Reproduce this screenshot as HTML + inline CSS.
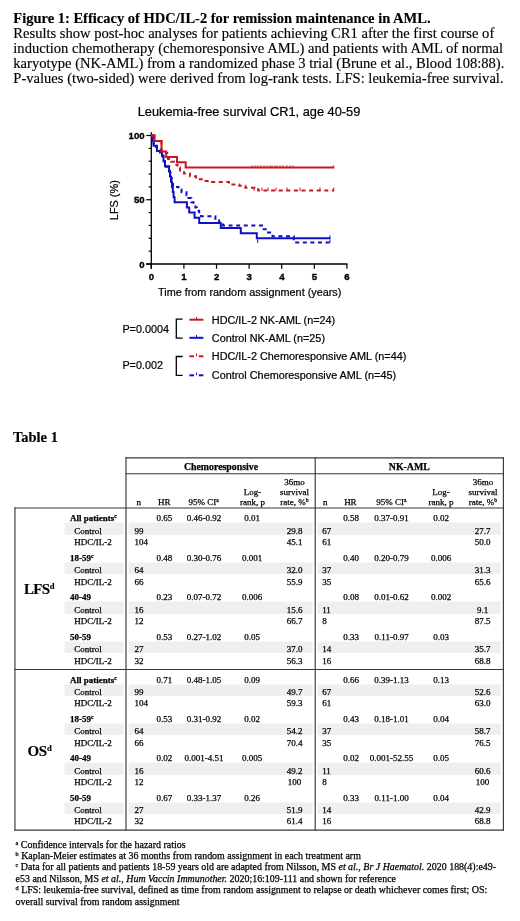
<!DOCTYPE html>
<html><head><meta charset="utf-8"><title>Figure 1 and Table 1</title><style>
*{margin:0;padding:0;box-sizing:border-box}
html,body{width:520px;height:921px;background:#fff;overflow:hidden}
body{position:relative;font-family:"Liberation Serif",serif;color:#000}
#pg{position:absolute;left:0;top:0;width:520px;height:921px;will-change:transform}
.t{position:absolute;white-space:nowrap}
.s{-webkit-text-stroke:0.25px #000}
.m{-webkit-text-stroke:0.15px #000}
.chart{position:absolute;left:0;top:0}
sup{font-size:0.62em;line-height:0;vertical-align:0.5em}
sup.big{font-size:8.6px;vertical-align:4.7px;margin-left:0.6px}
</style></head>
<body><div id="pg">
<svg class="chart" width="520" height="921" viewBox="0 0 520 921"><rect x="64.5" y="522.50" width="59.00" height="12.40" fill="#efefef"/><rect x="128.6" y="522.50" width="184.10" height="12.40" fill="#efefef"/><rect x="317.5" y="522.50" width="183.30" height="12.40" fill="#efefef"/><rect x="64.5" y="562.50" width="59.00" height="11.40" fill="#efefef"/><rect x="128.6" y="562.50" width="184.10" height="11.40" fill="#efefef"/><rect x="317.5" y="562.50" width="183.30" height="11.40" fill="#efefef"/><rect x="64.5" y="601.50" width="59.00" height="12.40" fill="#efefef"/><rect x="128.6" y="601.50" width="184.10" height="12.40" fill="#efefef"/><rect x="317.5" y="601.50" width="183.30" height="12.40" fill="#efefef"/><rect x="64.5" y="641.50" width="59.00" height="11.40" fill="#efefef"/><rect x="128.6" y="641.50" width="184.10" height="11.40" fill="#efefef"/><rect x="317.5" y="641.50" width="183.30" height="11.40" fill="#efefef"/><rect x="64.5" y="684.50" width="59.00" height="11.40" fill="#efefef"/><rect x="128.6" y="684.50" width="184.10" height="11.40" fill="#efefef"/><rect x="317.5" y="684.50" width="183.30" height="11.40" fill="#efefef"/><rect x="64.5" y="723.50" width="59.00" height="11.40" fill="#efefef"/><rect x="128.6" y="723.50" width="184.10" height="11.40" fill="#efefef"/><rect x="317.5" y="723.50" width="183.30" height="11.40" fill="#efefef"/><rect x="64.5" y="762.50" width="59.00" height="12.40" fill="#efefef"/><rect x="128.6" y="762.50" width="184.10" height="12.40" fill="#efefef"/><rect x="317.5" y="762.50" width="183.30" height="12.40" fill="#efefef"/><rect x="64.5" y="802.50" width="59.00" height="11.40" fill="#efefef"/><rect x="128.6" y="802.50" width="184.10" height="11.40" fill="#efefef"/><rect x="317.5" y="802.50" width="183.30" height="11.40" fill="#efefef"/><line x1="125.425" y1="457.85" x2="503.97499999999997" y2="457.85" stroke="#383838" stroke-width="1.15"/><line x1="125.425" y1="473.75" x2="503.97499999999997" y2="473.75" stroke="#383838" stroke-width="1.15"/><line x1="14.375" y1="508.0" x2="503.97499999999997" y2="508.0" stroke="#383838" stroke-width="1.15"/><line x1="14.375" y1="669.5" x2="503.97499999999997" y2="669.5" stroke="#383838" stroke-width="1.15"/><line x1="14.375" y1="830.1" x2="503.97499999999997" y2="830.1" stroke="#383838" stroke-width="1.15"/><line x1="14.95" y1="507.425" x2="14.95" y2="830.6750000000001" stroke="#383838" stroke-width="1.15"/><line x1="126.0" y1="457.27500000000003" x2="126.0" y2="830.6750000000001" stroke="#383838" stroke-width="1.15"/><line x1="315.2" y1="457.27500000000003" x2="315.2" y2="830.6750000000001" stroke="#383838" stroke-width="1.15"/><line x1="503.4" y1="457.27500000000003" x2="503.4" y2="830.6750000000001" stroke="#383838" stroke-width="1.15"/></svg>
<div class="t m" style="top:10px;font-size:14.5px;line-height:16px;font-weight:bold;left:13.30px;">Figure 1: Efficacy of HDC/IL-2 for remission maintenance in AML.</div>
<div class="t m" style="top:25px;font-size:14.58px;line-height:16px;left:13.30px;">Results show post-hoc analyses for patients achieving CR1 after the first course of</div>
<div class="t m" style="top:40px;font-size:14.58px;line-height:16px;left:13.30px;">induction chemotherapy (chemoresponsive AML) and patients with AML of normal</div>
<div class="t m" style="top:55px;font-size:14.58px;line-height:16px;left:13.30px;">karyotype (NK-AML) from a randomized phase 3 trial (Brune et al., Blood 108:88).</div>
<div class="t m" style="top:70px;font-size:14.58px;line-height:16px;left:13.30px;">P-values (two-sided) were derived from log-rank tests. LFS: leukemia-free survival.</div>
<svg class="chart" width="520" height="400" viewBox="0 0 520 400"><text x="249" y="115.7" font-size="12.8" text-anchor="middle" stroke="#000" stroke-width="0.22" font-family='"Liberation Sans", sans-serif'>Leukemia-free survival CR1, age 40-59</text><line x1="151.3" y1="132.3" x2="151.3" y2="268.8" stroke="#000" stroke-width="1.3"/><line x1="146.2" y1="264.0" x2="347.50000000000006" y2="264.0" stroke="#000" stroke-width="1.3"/><line x1="146.2" y1="264.00" x2="151.3" y2="264.00" stroke="#000" stroke-width="1.2"/><line x1="148.6" y1="251.15" x2="151.3" y2="251.15" stroke="#000" stroke-width="1.2"/><line x1="148.6" y1="238.30" x2="151.3" y2="238.30" stroke="#000" stroke-width="1.2"/><line x1="148.6" y1="225.45" x2="151.3" y2="225.45" stroke="#000" stroke-width="1.2"/><line x1="148.6" y1="212.60" x2="151.3" y2="212.60" stroke="#000" stroke-width="1.2"/><line x1="146.2" y1="199.75" x2="151.3" y2="199.75" stroke="#000" stroke-width="1.2"/><line x1="148.6" y1="186.90" x2="151.3" y2="186.90" stroke="#000" stroke-width="1.2"/><line x1="148.6" y1="174.05" x2="151.3" y2="174.05" stroke="#000" stroke-width="1.2"/><line x1="148.6" y1="161.20" x2="151.3" y2="161.20" stroke="#000" stroke-width="1.2"/><line x1="148.6" y1="148.35" x2="151.3" y2="148.35" stroke="#000" stroke-width="1.2"/><line x1="146.2" y1="135.50" x2="151.3" y2="135.50" stroke="#000" stroke-width="1.2"/><line x1="151.30" y1="264.0" x2="151.30" y2="268.8" stroke="#000" stroke-width="1.2"/><text x="151.40" y="280.3" font-size="9.6" font-weight="bold" text-anchor="middle" stroke="#000" stroke-width="0.35" font-family='"Liberation Sans", sans-serif'>0</text><line x1="183.90" y1="264.0" x2="183.90" y2="268.8" stroke="#000" stroke-width="1.2"/><text x="184.00" y="280.3" font-size="9.6" font-weight="bold" text-anchor="middle" stroke="#000" stroke-width="0.35" font-family='"Liberation Sans", sans-serif'>1</text><line x1="216.50" y1="264.0" x2="216.50" y2="268.8" stroke="#000" stroke-width="1.2"/><text x="216.60" y="280.3" font-size="9.6" font-weight="bold" text-anchor="middle" stroke="#000" stroke-width="0.35" font-family='"Liberation Sans", sans-serif'>2</text><line x1="249.10" y1="264.0" x2="249.10" y2="268.8" stroke="#000" stroke-width="1.2"/><text x="249.20" y="280.3" font-size="9.6" font-weight="bold" text-anchor="middle" stroke="#000" stroke-width="0.35" font-family='"Liberation Sans", sans-serif'>3</text><line x1="281.70" y1="264.0" x2="281.70" y2="268.8" stroke="#000" stroke-width="1.2"/><text x="281.80" y="280.3" font-size="9.6" font-weight="bold" text-anchor="middle" stroke="#000" stroke-width="0.35" font-family='"Liberation Sans", sans-serif'>4</text><line x1="314.30" y1="264.0" x2="314.30" y2="268.8" stroke="#000" stroke-width="1.2"/><text x="314.40" y="280.3" font-size="9.6" font-weight="bold" text-anchor="middle" stroke="#000" stroke-width="0.35" font-family='"Liberation Sans", sans-serif'>5</text><line x1="346.90" y1="264.0" x2="346.90" y2="268.8" stroke="#000" stroke-width="1.2"/><text x="347.00" y="280.3" font-size="9.6" font-weight="bold" text-anchor="middle" stroke="#000" stroke-width="0.35" font-family='"Liberation Sans", sans-serif'>6</text><text x="144.6" y="267.60" font-size="9.6" font-weight="bold" text-anchor="end" stroke="#000" stroke-width="0.35" font-family='"Liberation Sans", sans-serif'>0</text><text x="144.6" y="203.35" font-size="9.6" font-weight="bold" text-anchor="end" stroke="#000" stroke-width="0.35" font-family='"Liberation Sans", sans-serif'>50</text><text x="144.6" y="139.10" font-size="9.6" font-weight="bold" text-anchor="end" stroke="#000" stroke-width="0.35" font-family='"Liberation Sans", sans-serif'>100</text><text x="249.7" y="295.6" font-size="10.85" text-anchor="middle" stroke="#000" stroke-width="0.22" font-family='"Liberation Sans", sans-serif'>Time from random assignment (years)</text><text transform="translate(118.2,200.2) rotate(-90)" font-size="10.9" text-anchor="middle" stroke="#000" stroke-width="0.22" font-family='"Liberation Sans", sans-serif'>LFS (%)</text><path d="M151.30,135.50 L152.80,135.50 L152.80,138.33 L153.20,138.33 L153.20,141.15 L153.60,141.15 L153.60,144.11 L154.00,144.11 L154.00,146.94 L157.00,146.94 L157.00,149.76 L160.00,149.76 L160.00,152.59 L162.30,152.59 L162.30,155.55 L163.20,155.55 L163.20,158.37 L164.00,158.37 L164.00,161.20 L165.00,161.20 L165.00,164.03 L166.00,164.03 L166.00,166.85 L169.30,166.85 L169.30,169.81 L170.00,169.81 L170.00,172.64 L170.60,172.64 L170.60,175.46 L171.20,175.46 L171.20,178.29 L171.80,178.29 L171.80,181.25 L172.40,181.25 L172.40,184.07 L173.00,184.07 L173.00,186.90 L178.50,186.90 L178.50,189.47 L181.50,189.47 L181.50,192.30 L186.50,192.30 L186.50,195.38 L188.50,195.38 L188.50,197.95 L191.30,197.95 L191.30,202.32 L193.50,202.32 L193.50,204.63 L195.40,204.63 L195.40,207.46 L196.90,207.46 L196.90,210.80 L199.20,210.80 L199.20,214.66 L201.00,214.66 L201.00,216.20 L215.40,216.20 L215.40,220.31 L219.00,220.31 L219.00,222.37 L223.00,222.37 L223.00,225.45 L262.00,225.45 L262.00,229.31 L268.00,229.31 L268.00,232.52 L272.50,232.52 L272.50,236.37 L293.80,236.37 L293.80,242.41 L330.40,242.41" fill="none" stroke="#1010c4" stroke-width="2" stroke-dasharray="4,3.6"/><path d="M151.30,135.50 L152.80,135.50 L152.80,140.64 L153.60,140.64 L153.60,145.78 L157.00,145.78 L157.00,150.92 L162.00,150.92 L162.00,156.06 L163.50,156.06 L163.50,161.20 L165.00,161.20 L165.00,166.34 L169.00,166.34 L169.00,171.48 L170.00,171.48 L170.00,176.62 L171.00,176.62 L171.00,181.76 L172.00,181.76 L172.00,186.90 L172.80,186.90 L172.80,192.04 L173.60,192.04 L173.60,197.18 L174.60,197.18 L174.60,202.32 L186.90,202.32 L186.90,207.46 L189.20,207.46 L189.20,212.60 L194.60,212.60 L194.60,217.74 L199.20,217.74 L199.20,222.88 L220.80,222.88 L220.80,228.02 L240.80,228.02 L240.80,233.16 L256.80,233.16 L256.80,238.30 L330.40,238.30" fill="none" stroke="#1010c4" stroke-width="2"/><path d="M151.30,135.50 L154.60,135.50 L154.60,140.90 L161.50,140.90 L161.50,150.66 L166.00,150.66 L166.00,152.98 L167.20,152.98 L167.20,155.93 L168.00,155.93 L168.00,158.89 L171.00,158.89 L171.00,161.84 L174.00,161.84 L174.00,164.67 L177.50,164.67 L177.50,167.62 L180.00,167.62 L180.00,170.58 L184.00,170.58 L184.00,173.41 L190.00,173.41 L190.00,176.36 L196.00,176.36 L196.00,179.19 L203.00,179.19 L203.00,180.99 L212.00,180.99 L212.00,182.02 L229.00,182.02 L229.00,184.59 L239.30,184.59 L239.30,185.87 L245.40,185.87 L245.40,187.80 L254.50,187.80 L254.50,189.34 L258.30,189.34 L258.30,190.50 L334.20,190.50" fill="none" stroke="#cc161e" stroke-width="2" stroke-dasharray="4,3.6"/><path d="M151.30,135.50 L154.60,135.50 L154.60,140.90 L161.50,140.90 L161.50,151.56 L166.20,151.56 L166.20,156.96 L177.00,156.96 L177.00,162.23 L185.70,162.23 L185.70,167.62 L334.20,167.62" fill="none" stroke="#cc161e" stroke-width="2"/><line x1="252.00" y1="168.12" x2="252.00" y2="165.43" stroke="#cc161e" stroke-width="1"/><line x1="255.00" y1="168.12" x2="255.00" y2="165.43" stroke="#cc161e" stroke-width="1"/><line x1="258.00" y1="168.12" x2="258.00" y2="165.43" stroke="#cc161e" stroke-width="1"/><line x1="261.00" y1="168.12" x2="261.00" y2="165.43" stroke="#cc161e" stroke-width="1"/><line x1="264.00" y1="168.12" x2="264.00" y2="165.43" stroke="#cc161e" stroke-width="1"/><line x1="267.00" y1="168.12" x2="267.00" y2="165.43" stroke="#cc161e" stroke-width="1"/><line x1="270.00" y1="168.12" x2="270.00" y2="165.43" stroke="#cc161e" stroke-width="1"/><line x1="272.00" y1="168.12" x2="272.00" y2="165.43" stroke="#cc161e" stroke-width="1"/><line x1="275.00" y1="168.12" x2="275.00" y2="165.43" stroke="#cc161e" stroke-width="1"/><line x1="277.00" y1="168.12" x2="277.00" y2="165.43" stroke="#cc161e" stroke-width="1"/><line x1="280.00" y1="168.12" x2="280.00" y2="165.43" stroke="#cc161e" stroke-width="1"/><line x1="283.00" y1="168.12" x2="283.00" y2="165.43" stroke="#cc161e" stroke-width="1"/><line x1="287.00" y1="168.12" x2="287.00" y2="165.43" stroke="#cc161e" stroke-width="1"/><line x1="290.00" y1="168.12" x2="290.00" y2="165.43" stroke="#cc161e" stroke-width="1"/><line x1="293.00" y1="168.12" x2="293.00" y2="165.43" stroke="#cc161e" stroke-width="1"/><line x1="333.70" y1="168.12" x2="333.70" y2="165.43" stroke="#cc161e" stroke-width="1"/><line x1="254.00" y1="191.00" x2="254.00" y2="187.50" stroke="#cc161e" stroke-width="1"/><line x1="262.00" y1="191.00" x2="262.00" y2="187.50" stroke="#cc161e" stroke-width="1"/><line x1="268.00" y1="191.00" x2="268.00" y2="187.50" stroke="#cc161e" stroke-width="1"/><line x1="276.00" y1="191.00" x2="276.00" y2="187.50" stroke="#cc161e" stroke-width="1"/><line x1="287.00" y1="191.00" x2="287.00" y2="187.50" stroke="#cc161e" stroke-width="1"/><line x1="300.00" y1="191.00" x2="300.00" y2="187.50" stroke="#cc161e" stroke-width="1"/><line x1="320.00" y1="191.00" x2="320.00" y2="187.50" stroke="#cc161e" stroke-width="1"/><line x1="333.70" y1="191.00" x2="333.70" y2="187.50" stroke="#cc161e" stroke-width="1"/><line x1="329.90" y1="238.80" x2="329.90" y2="235.30" stroke="#1010c4" stroke-width="1"/><line x1="257.70" y1="242.91" x2="257.70" y2="239.41" stroke="#1010c4" stroke-width="1"/><line x1="329.90" y1="242.91" x2="329.90" y2="239.41" stroke="#1010c4" stroke-width="1"/><text x="122.4" y="332.6" font-size="10.8" stroke="#000" stroke-width="0.22" font-family='"Liberation Sans", sans-serif'>P=0.0004</text><text x="122.4" y="368.9" font-size="10.8" stroke="#000" stroke-width="0.22" font-family='"Liberation Sans", sans-serif'>P=0.002</text><path d="M182.6,319.2 H176.3 V338.1 H182.6" fill="none" stroke="#000" stroke-width="1.3"/><path d="M182.6,356.5 H176.3 V375.3 H182.6" fill="none" stroke="#000" stroke-width="1.3"/><line x1="189.4" y1="319.7" x2="203.4" y2="319.7" stroke="#cc161e" stroke-width="2"/><line x1="196.5" y1="316.9" x2="196.5" y2="319.7" stroke="#cc161e" stroke-width="1"/><text x="211.8" y="323.6" font-size="10.85" stroke="#000" stroke-width="0.22" font-family='"Liberation Sans", sans-serif'>HDC/IL-2 NK-AML (n=24)</text><line x1="189.4" y1="337.8" x2="203.4" y2="337.8" stroke="#1010c4" stroke-width="2"/><line x1="196.5" y1="335.0" x2="196.5" y2="337.8" stroke="#1010c4" stroke-width="1"/><text x="211.8" y="341.7" font-size="10.85" stroke="#000" stroke-width="0.22" font-family='"Liberation Sans", sans-serif'>Control NK-AML (n=25)</text><line x1="189.4" y1="356.3" x2="194" y2="356.3" stroke="#cc161e" stroke-width="2"/><line x1="198.8" y1="356.3" x2="203.4" y2="356.3" stroke="#cc161e" stroke-width="2"/><line x1="196.5" y1="353.5" x2="196.5" y2="356.3" stroke="#cc161e" stroke-width="1"/><text x="211.8" y="359.8" font-size="10.85" stroke="#000" stroke-width="0.22" font-family='"Liberation Sans", sans-serif'>HDC/IL-2 Chemoresponsive AML (n=44)</text><line x1="189.4" y1="375.3" x2="194" y2="375.3" stroke="#1010c4" stroke-width="2"/><line x1="198.8" y1="375.3" x2="203.4" y2="375.3" stroke="#1010c4" stroke-width="2"/><line x1="196.5" y1="372.5" x2="196.5" y2="375.3" stroke="#1010c4" stroke-width="1"/><text x="211.8" y="379.2" font-size="10.85" stroke="#000" stroke-width="0.22" font-family='"Liberation Sans", sans-serif'>Control Chemoresponsive AML (n=45)</text></svg>
<div class="t m" style="top:429px;font-size:14.5px;line-height:16px;font-weight:bold;left:12.90px;">Table 1</div>
<div class="t s" style="top:513px;font-size:9.0px;line-height:10px;font-weight:bold;left:70.00px;">All patients<sup>c</sup></div>
<div class="t s" style="top:526px;font-size:9.0px;line-height:10px;left:74.20px;">Control</div>
<div class="t s" style="top:537px;font-size:9.0px;line-height:10px;left:74.20px;">HDC/IL-2</div>
<div class="t s" style="top:513px;font-size:9.0px;line-height:10px;left:14.40px;width:300px;text-align:center;">0.65</div>
<div class="t s" style="top:513px;font-size:9.0px;line-height:10px;left:54.00px;width:300px;text-align:center;">0.46-0.92</div>
<div class="t s" style="top:513px;font-size:9.0px;line-height:10px;left:102.20px;width:300px;text-align:center;">0.01</div>
<div class="t s" style="top:513px;font-size:9.0px;line-height:10px;left:201.20px;width:300px;text-align:center;">0.58</div>
<div class="t s" style="top:513px;font-size:9.0px;line-height:10px;left:241.60px;width:300px;text-align:center;">0.37-0.91</div>
<div class="t s" style="top:513px;font-size:9.0px;line-height:10px;left:291.00px;width:300px;text-align:center;">0.02</div>
<div class="t s" style="top:526px;font-size:9.0px;line-height:10px;left:134.60px;">99</div>
<div class="t s" style="top:526px;font-size:9.0px;line-height:10px;left:144.50px;width:300px;text-align:center;">29.8</div>
<div class="t s" style="top:537px;font-size:9.0px;line-height:10px;left:134.60px;">104</div>
<div class="t s" style="top:537px;font-size:9.0px;line-height:10px;left:144.50px;width:300px;text-align:center;">45.1</div>
<div class="t s" style="top:526px;font-size:9.0px;line-height:10px;left:322.20px;">67</div>
<div class="t s" style="top:526px;font-size:9.0px;line-height:10px;left:332.60px;width:300px;text-align:center;">27.7</div>
<div class="t s" style="top:537px;font-size:9.0px;line-height:10px;left:322.20px;">61</div>
<div class="t s" style="top:537px;font-size:9.0px;line-height:10px;left:332.60px;width:300px;text-align:center;">50.0</div>
<div class="t s" style="top:553px;font-size:9.0px;line-height:10px;font-weight:bold;left:70.00px;">18-59<sup>c</sup></div>
<div class="t s" style="top:565px;font-size:9.0px;line-height:10px;left:74.20px;">Control</div>
<div class="t s" style="top:577px;font-size:9.0px;line-height:10px;left:74.20px;">HDC/IL-2</div>
<div class="t s" style="top:553px;font-size:9.0px;line-height:10px;left:14.40px;width:300px;text-align:center;">0.48</div>
<div class="t s" style="top:553px;font-size:9.0px;line-height:10px;left:54.00px;width:300px;text-align:center;">0.30-0.76</div>
<div class="t s" style="top:553px;font-size:9.0px;line-height:10px;left:102.20px;width:300px;text-align:center;">0.001</div>
<div class="t s" style="top:553px;font-size:9.0px;line-height:10px;left:201.20px;width:300px;text-align:center;">0.40</div>
<div class="t s" style="top:553px;font-size:9.0px;line-height:10px;left:241.60px;width:300px;text-align:center;">0.20-0.79</div>
<div class="t s" style="top:553px;font-size:9.0px;line-height:10px;left:291.00px;width:300px;text-align:center;">0.006</div>
<div class="t s" style="top:565px;font-size:9.0px;line-height:10px;left:134.60px;">64</div>
<div class="t s" style="top:565px;font-size:9.0px;line-height:10px;left:144.50px;width:300px;text-align:center;">32.0</div>
<div class="t s" style="top:577px;font-size:9.0px;line-height:10px;left:134.60px;">66</div>
<div class="t s" style="top:577px;font-size:9.0px;line-height:10px;left:144.50px;width:300px;text-align:center;">55.9</div>
<div class="t s" style="top:565px;font-size:9.0px;line-height:10px;left:322.20px;">37</div>
<div class="t s" style="top:565px;font-size:9.0px;line-height:10px;left:332.60px;width:300px;text-align:center;">31.3</div>
<div class="t s" style="top:577px;font-size:9.0px;line-height:10px;left:322.20px;">35</div>
<div class="t s" style="top:577px;font-size:9.0px;line-height:10px;left:332.60px;width:300px;text-align:center;">65.6</div>
<div class="t s" style="top:592px;font-size:9.0px;line-height:10px;font-weight:bold;left:70.00px;">40-49</div>
<div class="t s" style="top:605px;font-size:9.0px;line-height:10px;left:74.20px;">Control</div>
<div class="t s" style="top:616px;font-size:9.0px;line-height:10px;left:74.20px;">HDC/IL-2</div>
<div class="t s" style="top:592px;font-size:9.0px;line-height:10px;left:14.40px;width:300px;text-align:center;">0.23</div>
<div class="t s" style="top:592px;font-size:9.0px;line-height:10px;left:54.00px;width:300px;text-align:center;">0.07-0.72</div>
<div class="t s" style="top:592px;font-size:9.0px;line-height:10px;left:102.20px;width:300px;text-align:center;">0.006</div>
<div class="t s" style="top:592px;font-size:9.0px;line-height:10px;left:201.20px;width:300px;text-align:center;">0.08</div>
<div class="t s" style="top:592px;font-size:9.0px;line-height:10px;left:241.60px;width:300px;text-align:center;">0.01-0.62</div>
<div class="t s" style="top:592px;font-size:9.0px;line-height:10px;left:291.00px;width:300px;text-align:center;">0.002</div>
<div class="t s" style="top:605px;font-size:9.0px;line-height:10px;left:134.60px;">16</div>
<div class="t s" style="top:605px;font-size:9.0px;line-height:10px;left:144.50px;width:300px;text-align:center;">15.6</div>
<div class="t s" style="top:616px;font-size:9.0px;line-height:10px;left:134.60px;">12</div>
<div class="t s" style="top:616px;font-size:9.0px;line-height:10px;left:144.50px;width:300px;text-align:center;">66.7</div>
<div class="t s" style="top:605px;font-size:9.0px;line-height:10px;left:322.20px;">11</div>
<div class="t s" style="top:605px;font-size:9.0px;line-height:10px;left:332.60px;width:300px;text-align:center;">9.1</div>
<div class="t s" style="top:616px;font-size:9.0px;line-height:10px;left:322.20px;">8</div>
<div class="t s" style="top:616px;font-size:9.0px;line-height:10px;left:332.60px;width:300px;text-align:center;">87.5</div>
<div class="t s" style="top:632px;font-size:9.0px;line-height:10px;font-weight:bold;left:70.00px;">50-59</div>
<div class="t s" style="top:644px;font-size:9.0px;line-height:10px;left:74.20px;">Control</div>
<div class="t s" style="top:656px;font-size:9.0px;line-height:10px;left:74.20px;">HDC/IL-2</div>
<div class="t s" style="top:632px;font-size:9.0px;line-height:10px;left:14.40px;width:300px;text-align:center;">0.53</div>
<div class="t s" style="top:632px;font-size:9.0px;line-height:10px;left:54.00px;width:300px;text-align:center;">0.27-1.02</div>
<div class="t s" style="top:632px;font-size:9.0px;line-height:10px;left:102.20px;width:300px;text-align:center;">0.05</div>
<div class="t s" style="top:632px;font-size:9.0px;line-height:10px;left:201.20px;width:300px;text-align:center;">0.33</div>
<div class="t s" style="top:632px;font-size:9.0px;line-height:10px;left:241.60px;width:300px;text-align:center;">0.11-0.97</div>
<div class="t s" style="top:632px;font-size:9.0px;line-height:10px;left:291.00px;width:300px;text-align:center;">0.03</div>
<div class="t s" style="top:644px;font-size:9.0px;line-height:10px;left:134.60px;">27</div>
<div class="t s" style="top:644px;font-size:9.0px;line-height:10px;left:144.50px;width:300px;text-align:center;">37.0</div>
<div class="t s" style="top:656px;font-size:9.0px;line-height:10px;left:134.60px;">32</div>
<div class="t s" style="top:656px;font-size:9.0px;line-height:10px;left:144.50px;width:300px;text-align:center;">56.3</div>
<div class="t s" style="top:644px;font-size:9.0px;line-height:10px;left:322.20px;">14</div>
<div class="t s" style="top:644px;font-size:9.0px;line-height:10px;left:332.60px;width:300px;text-align:center;">35.7</div>
<div class="t s" style="top:656px;font-size:9.0px;line-height:10px;left:322.20px;">16</div>
<div class="t s" style="top:656px;font-size:9.0px;line-height:10px;left:332.60px;width:300px;text-align:center;">68.8</div>
<div class="t s" style="top:675px;font-size:9.0px;line-height:10px;font-weight:bold;left:70.00px;">All patients<sup>c</sup></div>
<div class="t s" style="top:687px;font-size:9.0px;line-height:10px;left:74.20px;">Control</div>
<div class="t s" style="top:698px;font-size:9.0px;line-height:10px;left:74.20px;">HDC/IL-2</div>
<div class="t s" style="top:675px;font-size:9.0px;line-height:10px;left:14.40px;width:300px;text-align:center;">0.71</div>
<div class="t s" style="top:675px;font-size:9.0px;line-height:10px;left:54.00px;width:300px;text-align:center;">0.48-1.05</div>
<div class="t s" style="top:675px;font-size:9.0px;line-height:10px;left:102.20px;width:300px;text-align:center;">0.09</div>
<div class="t s" style="top:675px;font-size:9.0px;line-height:10px;left:201.20px;width:300px;text-align:center;">0.66</div>
<div class="t s" style="top:675px;font-size:9.0px;line-height:10px;left:241.60px;width:300px;text-align:center;">0.39-1.13</div>
<div class="t s" style="top:675px;font-size:9.0px;line-height:10px;left:291.00px;width:300px;text-align:center;">0.13</div>
<div class="t s" style="top:687px;font-size:9.0px;line-height:10px;left:134.60px;">99</div>
<div class="t s" style="top:687px;font-size:9.0px;line-height:10px;left:144.50px;width:300px;text-align:center;">49.7</div>
<div class="t s" style="top:698px;font-size:9.0px;line-height:10px;left:134.60px;">104</div>
<div class="t s" style="top:698px;font-size:9.0px;line-height:10px;left:144.50px;width:300px;text-align:center;">59.3</div>
<div class="t s" style="top:687px;font-size:9.0px;line-height:10px;left:322.20px;">67</div>
<div class="t s" style="top:687px;font-size:9.0px;line-height:10px;left:332.60px;width:300px;text-align:center;">52.6</div>
<div class="t s" style="top:698px;font-size:9.0px;line-height:10px;left:322.20px;">61</div>
<div class="t s" style="top:698px;font-size:9.0px;line-height:10px;left:332.60px;width:300px;text-align:center;">63.0</div>
<div class="t s" style="top:714px;font-size:9.0px;line-height:10px;font-weight:bold;left:70.00px;">18-59<sup>c</sup></div>
<div class="t s" style="top:726px;font-size:9.0px;line-height:10px;left:74.20px;">Control</div>
<div class="t s" style="top:738px;font-size:9.0px;line-height:10px;left:74.20px;">HDC/IL-2</div>
<div class="t s" style="top:714px;font-size:9.0px;line-height:10px;left:14.40px;width:300px;text-align:center;">0.53</div>
<div class="t s" style="top:714px;font-size:9.0px;line-height:10px;left:54.00px;width:300px;text-align:center;">0.31-0.92</div>
<div class="t s" style="top:714px;font-size:9.0px;line-height:10px;left:102.20px;width:300px;text-align:center;">0.02</div>
<div class="t s" style="top:714px;font-size:9.0px;line-height:10px;left:201.20px;width:300px;text-align:center;">0.43</div>
<div class="t s" style="top:714px;font-size:9.0px;line-height:10px;left:241.60px;width:300px;text-align:center;">0.18-1.01</div>
<div class="t s" style="top:714px;font-size:9.0px;line-height:10px;left:291.00px;width:300px;text-align:center;">0.04</div>
<div class="t s" style="top:726px;font-size:9.0px;line-height:10px;left:134.60px;">64</div>
<div class="t s" style="top:726px;font-size:9.0px;line-height:10px;left:144.50px;width:300px;text-align:center;">54.2</div>
<div class="t s" style="top:738px;font-size:9.0px;line-height:10px;left:134.60px;">66</div>
<div class="t s" style="top:738px;font-size:9.0px;line-height:10px;left:144.50px;width:300px;text-align:center;">70.4</div>
<div class="t s" style="top:726px;font-size:9.0px;line-height:10px;left:322.20px;">37</div>
<div class="t s" style="top:726px;font-size:9.0px;line-height:10px;left:332.60px;width:300px;text-align:center;">58.7</div>
<div class="t s" style="top:738px;font-size:9.0px;line-height:10px;left:322.20px;">35</div>
<div class="t s" style="top:738px;font-size:9.0px;line-height:10px;left:332.60px;width:300px;text-align:center;">76.5</div>
<div class="t s" style="top:753px;font-size:9.0px;line-height:10px;font-weight:bold;left:70.00px;">40-49</div>
<div class="t s" style="top:766px;font-size:9.0px;line-height:10px;left:74.20px;">Control</div>
<div class="t s" style="top:777px;font-size:9.0px;line-height:10px;left:74.20px;">HDC/IL-2</div>
<div class="t s" style="top:753px;font-size:9.0px;line-height:10px;left:14.40px;width:300px;text-align:center;">0.02</div>
<div class="t s" style="top:753px;font-size:9.0px;line-height:10px;left:54.00px;width:300px;text-align:center;">0.001-4.51</div>
<div class="t s" style="top:753px;font-size:9.0px;line-height:10px;left:102.20px;width:300px;text-align:center;">0.005</div>
<div class="t s" style="top:753px;font-size:9.0px;line-height:10px;left:201.20px;width:300px;text-align:center;">0.02</div>
<div class="t s" style="top:753px;font-size:9.0px;line-height:10px;left:241.60px;width:300px;text-align:center;">0.001-52.55</div>
<div class="t s" style="top:753px;font-size:9.0px;line-height:10px;left:291.00px;width:300px;text-align:center;">0.05</div>
<div class="t s" style="top:766px;font-size:9.0px;line-height:10px;left:134.60px;">16</div>
<div class="t s" style="top:766px;font-size:9.0px;line-height:10px;left:144.50px;width:300px;text-align:center;">49.2</div>
<div class="t s" style="top:777px;font-size:9.0px;line-height:10px;left:134.60px;">12</div>
<div class="t s" style="top:777px;font-size:9.0px;line-height:10px;left:144.50px;width:300px;text-align:center;">100</div>
<div class="t s" style="top:766px;font-size:9.0px;line-height:10px;left:322.20px;">11</div>
<div class="t s" style="top:766px;font-size:9.0px;line-height:10px;left:332.60px;width:300px;text-align:center;">60.6</div>
<div class="t s" style="top:777px;font-size:9.0px;line-height:10px;left:322.20px;">8</div>
<div class="t s" style="top:777px;font-size:9.0px;line-height:10px;left:332.60px;width:300px;text-align:center;">100</div>
<div class="t s" style="top:793px;font-size:9.0px;line-height:10px;font-weight:bold;left:70.00px;">50-59</div>
<div class="t s" style="top:805px;font-size:9.0px;line-height:10px;left:74.20px;">Control</div>
<div class="t s" style="top:816px;font-size:9.0px;line-height:10px;left:74.20px;">HDC/IL-2</div>
<div class="t s" style="top:793px;font-size:9.0px;line-height:10px;left:14.40px;width:300px;text-align:center;">0.67</div>
<div class="t s" style="top:793px;font-size:9.0px;line-height:10px;left:54.00px;width:300px;text-align:center;">0.33-1.37</div>
<div class="t s" style="top:793px;font-size:9.0px;line-height:10px;left:102.20px;width:300px;text-align:center;">0.26</div>
<div class="t s" style="top:793px;font-size:9.0px;line-height:10px;left:201.20px;width:300px;text-align:center;">0.33</div>
<div class="t s" style="top:793px;font-size:9.0px;line-height:10px;left:241.60px;width:300px;text-align:center;">0.11-1.00</div>
<div class="t s" style="top:793px;font-size:9.0px;line-height:10px;left:291.00px;width:300px;text-align:center;">0.04</div>
<div class="t s" style="top:805px;font-size:9.0px;line-height:10px;left:134.60px;">27</div>
<div class="t s" style="top:805px;font-size:9.0px;line-height:10px;left:144.50px;width:300px;text-align:center;">51.9</div>
<div class="t s" style="top:816px;font-size:9.0px;line-height:10px;left:134.60px;">32</div>
<div class="t s" style="top:816px;font-size:9.0px;line-height:10px;left:144.50px;width:300px;text-align:center;">61.4</div>
<div class="t s" style="top:805px;font-size:9.0px;line-height:10px;left:322.20px;">14</div>
<div class="t s" style="top:805px;font-size:9.0px;line-height:10px;left:332.60px;width:300px;text-align:center;">42.9</div>
<div class="t s" style="top:816px;font-size:9.0px;line-height:10px;left:322.20px;">16</div>
<div class="t s" style="top:816px;font-size:9.0px;line-height:10px;left:332.60px;width:300px;text-align:center;">68.8</div>
<div class="t m" style="top:581px;font-size:15px;line-height:16px;font-weight:bold;left:24.00px;"><span style="letter-spacing:-0.75px">LFS</span><sup class="big">d</sup></div>
<div class="t m" style="top:743px;font-size:15px;line-height:16px;font-weight:bold;left:27.60px;"><span style="letter-spacing:-0.55px">OS</span><sup class="big">d</sup></div>
<div class="t s" style="top:461px;font-size:9.85px;line-height:11px;font-weight:bold;left:71.00px;width:300px;text-align:center;">Chemoresponsive</div>
<div class="t s" style="top:461px;font-size:9.85px;line-height:11px;font-weight:bold;left:259.30px;width:300px;text-align:center;">NK-AML</div>
<div class="t s" style="top:497px;font-size:9.0px;line-height:10px;left:-11.20px;width:300px;text-align:center;">n</div>
<div class="t s" style="top:497px;font-size:9.0px;line-height:10px;left:175.30px;width:300px;text-align:center;">n</div>
<div class="t s" style="top:497px;font-size:9.0px;line-height:10px;left:14.30px;width:300px;text-align:center;">HR</div>
<div class="t s" style="top:497px;font-size:9.0px;line-height:10px;left:53.60px;width:300px;text-align:center;">95% CI<sup>a</sup></div>
<div class="t s" style="top:487px;font-size:9.0px;line-height:10px;left:102.40px;width:300px;text-align:center;">Log-</div>
<div class="t s" style="top:497px;font-size:9.0px;line-height:10px;left:102.40px;width:300px;text-align:center;">rank, p</div>
<div class="t s" style="top:477px;font-size:9.0px;line-height:10px;left:144.50px;width:300px;text-align:center;">36mo</div>
<div class="t s" style="top:487px;font-size:9.0px;line-height:10px;left:144.50px;width:300px;text-align:center;">survival</div>
<div class="t s" style="top:497px;font-size:9.0px;line-height:10px;left:144.50px;width:300px;text-align:center;">rate, %<sup>b</sup></div>
<div class="t s" style="top:497px;font-size:9.0px;line-height:10px;left:200.40px;width:300px;text-align:center;">HR</div>
<div class="t s" style="top:497px;font-size:9.0px;line-height:10px;left:241.30px;width:300px;text-align:center;">95% CI<sup>a</sup></div>
<div class="t s" style="top:487px;font-size:9.0px;line-height:10px;left:290.90px;width:300px;text-align:center;">Log-</div>
<div class="t s" style="top:497px;font-size:9.0px;line-height:10px;left:290.90px;width:300px;text-align:center;">rank, p</div>
<div class="t s" style="top:477px;font-size:9.0px;line-height:10px;left:332.90px;width:300px;text-align:center;">36mo</div>
<div class="t s" style="top:487px;font-size:9.0px;line-height:10px;left:332.90px;width:300px;text-align:center;">survival</div>
<div class="t s" style="top:497px;font-size:9.0px;line-height:10px;left:332.90px;width:300px;text-align:center;">rate, %<sup>b</sup></div>
<div class="t s" style="top:839px;font-size:9.95px;line-height:11px;left:15.60px;"><sup>a</sup> Confidence intervals for the hazard ratios</div>
<div class="t s" style="top:850px;font-size:9.95px;line-height:11px;left:15.60px;"><sup>b</sup> Kaplan-Meier estimates at 36 months from random assignment in each treatment arm</div>
<div class="t s" style="top:861px;font-size:9.95px;line-height:11px;left:15.60px;"><sup>c</sup> Data for all patients and patients 18-59 years old are adapted from Nilsson, MS <i>et al.</i>, <i>Br J Haematol.</i> 2020 188(4):e49-</div>
<div class="t s" style="top:873px;font-size:9.95px;line-height:11px;left:15.60px;">e53 and Nilsson, MS <i>et al.</i>, <i>Hum Vaccin Immunother.</i> 2020;16:109-111 and shown for reference</div>
<div class="t s" style="top:884px;font-size:9.95px;line-height:11px;left:15.60px;"><sup>d</sup> LFS: leukemia-free survival, defined as time from random assignment to relapse or death whichever comes first; OS:</div>
<div class="t s" style="top:896px;font-size:9.95px;line-height:11px;left:15.60px;">overall survival from random assignment</div>
</div></body></html>
